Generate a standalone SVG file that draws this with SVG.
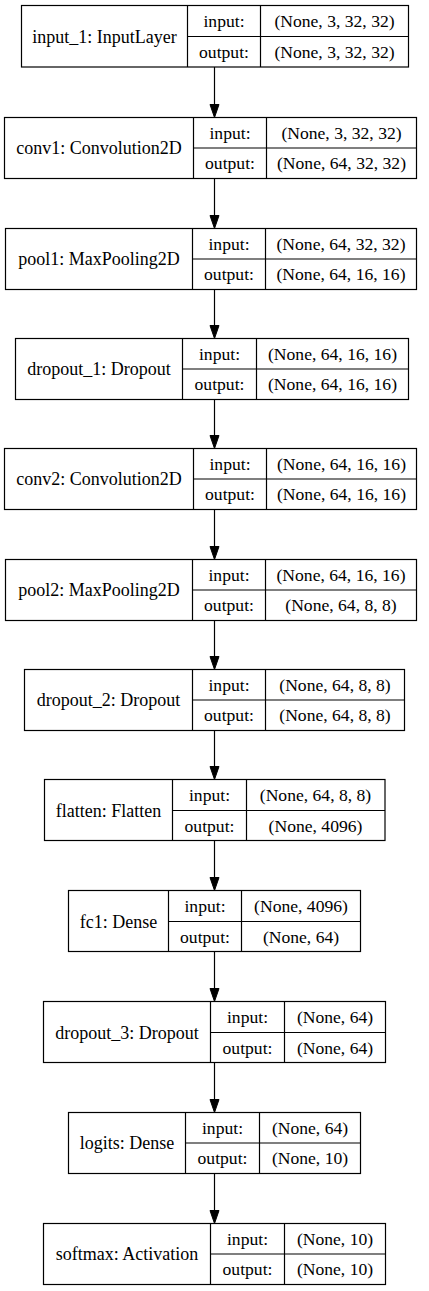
<svg xmlns="http://www.w3.org/2000/svg" width="429" height="1291" viewBox="0 0 429 1291" font-family="Liberation Serif, serif">
<style>
rect.b{fill:#fff;stroke:#000;stroke-width:1.2}
line.d{stroke:#000;stroke-width:1.2}
text{font-family:'Liberation Serif',serif;font-size:17.6px;fill:#000;text-anchor:middle}
text.l{font-size:18px}
.edge line{stroke:#000;stroke-width:1.2}
.edge polygon{fill:#000;stroke:#000;stroke-width:1}
</style>
<rect width="429" height="1291" fill="#fff"/>
<g class="edge" id="connectors">
<line x1="214.5" y1="67" x2="214.5" y2="106"/><polygon points="214.5,117.5 210,104.5 219,104.5"/>
<line x1="214.5" y1="178.5" x2="214.5" y2="217"/><polygon points="214.5,228.5 210,215.5 219,215.5"/>
<line x1="214.5" y1="289.5" x2="214.5" y2="327"/><polygon points="214.5,338.5 210,325.5 219,325.5"/>
<line x1="214.5" y1="399.5" x2="214.5" y2="437"/><polygon points="214.5,448.5 210,435.5 219,435.5"/>
<line x1="214.5" y1="509.5" x2="214.5" y2="548"/><polygon points="214.5,559.5 210,546.5 219,546.5"/>
<line x1="214.5" y1="620.5" x2="214.5" y2="658"/><polygon points="214.5,669.5 210,656.5 219,656.5"/>
<line x1="214.5" y1="730.5" x2="214.5" y2="768"/><polygon points="214.5,779.5 210,766.5 219,766.5"/>
<line x1="214.5" y1="840.5" x2="214.5" y2="879"/><polygon points="214.5,890.5 210,877.5 219,877.5"/>
<line x1="214.5" y1="951.5" x2="214.5" y2="990"/><polygon points="214.5,1001.5 210,988.5 219,988.5"/>
<line x1="214.5" y1="1062.5" x2="214.5" y2="1101"/><polygon points="214.5,1112.5 210,1099.5 219,1099.5"/>
<line x1="214.5" y1="1173.5" x2="214.5" y2="1212"/><polygon points="214.5,1223.5 210,1210.5 219,1210.5"/>
</g>
<g id="input_1">
<rect class="b" x="21.5" y="5.5" width="387" height="61.5"/>
<line class="d" x1="187.5" y1="5.5" x2="187.5" y2="67"/><line class="d" x1="260.5" y1="5.5" x2="260.5" y2="67"/><line class="d" x1="187.5" y1="36.5" x2="408.5" y2="36.5"/>
<text class="l" x="104.5" y="42.5">input_1: InputLayer</text><text x="224" y="27">input:</text><text x="224" y="58">output:</text>
<text x="334.5" y="27">(None, 3, 32, 32)</text><text x="334.5" y="58">(None, 3, 32, 32)</text>
</g>
<g id="conv1">
<rect class="b" x="4.5" y="117.5" width="412" height="61"/>
<line class="d" x1="193.5" y1="117.5" x2="193.5" y2="178.5"/><line class="d" x1="266.5" y1="117.5" x2="266.5" y2="178.5"/><line class="d" x1="193.5" y1="148" x2="416.5" y2="148"/>
<text class="l" x="99" y="154">conv1: Convolution2D</text><text x="230" y="138.5">input:</text><text x="230" y="169">output:</text>
<text x="341.5" y="138.5">(None, 3, 32, 32)</text><text x="341.5" y="169">(None, 64, 32, 32)</text>
</g>
<g id="pool1">
<rect class="b" x="5.5" y="228.5" width="411" height="61"/>
<line class="d" x1="192.5" y1="228.5" x2="192.5" y2="289.5"/><line class="d" x1="265.5" y1="228.5" x2="265.5" y2="289.5"/><line class="d" x1="192.5" y1="259" x2="416.5" y2="259"/>
<text class="l" x="99" y="265">pool1: MaxPooling2D</text><text x="229" y="249.5">input:</text><text x="229" y="280">output:</text>
<text x="341" y="249.5">(None, 64, 32, 32)</text><text x="341" y="280">(None, 64, 16, 16)</text>
</g>
<g id="dropout_1">
<rect class="b" x="15.5" y="338.5" width="393" height="61"/>
<line class="d" x1="182.5" y1="338.5" x2="182.5" y2="399.5"/><line class="d" x1="256.5" y1="338.5" x2="256.5" y2="399.5"/><line class="d" x1="182.5" y1="369" x2="408.5" y2="369"/>
<text class="l" x="99" y="375">dropout_1: Dropout</text><text x="219.5" y="359.5">input:</text><text x="219.5" y="390">output:</text>
<text x="332.5" y="359.5">(None, 64, 16, 16)</text><text x="332.5" y="390">(None, 64, 16, 16)</text>
</g>
<g id="conv2">
<rect class="b" x="4.5" y="448.5" width="412" height="61"/>
<line class="d" x1="193.5" y1="448.5" x2="193.5" y2="509.5"/><line class="d" x1="266.5" y1="448.5" x2="266.5" y2="509.5"/><line class="d" x1="193.5" y1="479" x2="416.5" y2="479"/>
<text class="l" x="99" y="485">conv2: Convolution2D</text><text x="230" y="469.5">input:</text><text x="230" y="500">output:</text>
<text x="341.5" y="469.5">(None, 64, 16, 16)</text><text x="341.5" y="500">(None, 64, 16, 16)</text>
</g>
<g id="pool2">
<rect class="b" x="5.5" y="559.5" width="411" height="61"/>
<line class="d" x1="192.5" y1="559.5" x2="192.5" y2="620.5"/><line class="d" x1="265.5" y1="559.5" x2="265.5" y2="620.5"/><line class="d" x1="192.5" y1="590" x2="416.5" y2="590"/>
<text class="l" x="99" y="596">pool2: MaxPooling2D</text><text x="229" y="580.5">input:</text><text x="229" y="611">output:</text>
<text x="341" y="580.5">(None, 64, 16, 16)</text><text x="341" y="611">(None, 64, 8, 8)</text>
</g>
<g id="dropout_2">
<rect class="b" x="24.5" y="669.5" width="380" height="61"/>
<line class="d" x1="192.5" y1="669.5" x2="192.5" y2="730.5"/><line class="d" x1="265.5" y1="669.5" x2="265.5" y2="730.5"/><line class="d" x1="192.5" y1="700" x2="404.5" y2="700"/>
<text class="l" x="108.5" y="706">dropout_2: Dropout</text><text x="229" y="690.5">input:</text><text x="229" y="721">output:</text>
<text x="335" y="690.5">(None, 64, 8, 8)</text><text x="335" y="721">(None, 64, 8, 8)</text>
</g>
<g id="flatten">
<rect class="b" x="44.5" y="779.5" width="340.5" height="61"/>
<line class="d" x1="172.5" y1="779.5" x2="172.5" y2="840.5"/><line class="d" x1="246.5" y1="779.5" x2="246.5" y2="840.5"/><line class="d" x1="172.5" y1="810.5" x2="385" y2="810.5"/>
<text class="l" x="108.5" y="816.5">flatten: Flatten</text><text x="209.5" y="801">input:</text><text x="209.5" y="831.5">output:</text>
<text x="315.5" y="801">(None, 64, 8, 8)</text><text x="315.5" y="831.5">(None, 4096)</text>
</g>
<g id="fc1">
<rect class="b" x="68.5" y="890.5" width="292" height="61"/>
<line class="d" x1="168.5" y1="890.5" x2="168.5" y2="951.5"/><line class="d" x1="241.5" y1="890.5" x2="241.5" y2="951.5"/><line class="d" x1="168.5" y1="921.5" x2="360.5" y2="921.5"/>
<text class="l" x="118.5" y="927.5">fc1: Dense</text><text x="205" y="912">input:</text><text x="205" y="942.5">output:</text>
<text x="301" y="912">(None, 4096)</text><text x="301" y="942.5">(None, 64)</text>
</g>
<g id="dropout_3">
<rect class="b" x="43.5" y="1001.5" width="342" height="61"/>
<line class="d" x1="210.5" y1="1001.5" x2="210.5" y2="1062.5"/><line class="d" x1="284.5" y1="1001.5" x2="284.5" y2="1062.5"/><line class="d" x1="210.5" y1="1032.5" x2="385.5" y2="1032.5"/>
<text class="l" x="127" y="1038.5">dropout_3: Dropout</text><text x="247.5" y="1023">input:</text><text x="247.5" y="1053.5">output:</text>
<text x="335" y="1023">(None, 64)</text><text x="335" y="1053.5">(None, 64)</text>
</g>
<g id="logits">
<rect class="b" x="68.5" y="1112.5" width="292" height="61"/>
<line class="d" x1="185.5" y1="1112.5" x2="185.5" y2="1173.5"/><line class="d" x1="259.5" y1="1112.5" x2="259.5" y2="1173.5"/><line class="d" x1="185.5" y1="1143" x2="360.5" y2="1143"/>
<text class="l" x="127" y="1149">logits: Dense</text><text x="222.5" y="1133.5">input:</text><text x="222.5" y="1164">output:</text>
<text x="310" y="1133.5">(None, 64)</text><text x="310" y="1164">(None, 10)</text>
</g>
<g id="softmax">
<rect class="b" x="43.5" y="1223.5" width="342" height="61"/>
<line class="d" x1="210.5" y1="1223.5" x2="210.5" y2="1284.5"/><line class="d" x1="284.5" y1="1223.5" x2="284.5" y2="1284.5"/><line class="d" x1="210.5" y1="1254" x2="385.5" y2="1254"/>
<text class="l" x="127" y="1260">softmax: Activation</text><text x="247.5" y="1244.5">input:</text><text x="247.5" y="1275">output:</text>
<text x="335" y="1244.5">(None, 10)</text><text x="335" y="1275">(None, 10)</text>
</g>
</svg>
